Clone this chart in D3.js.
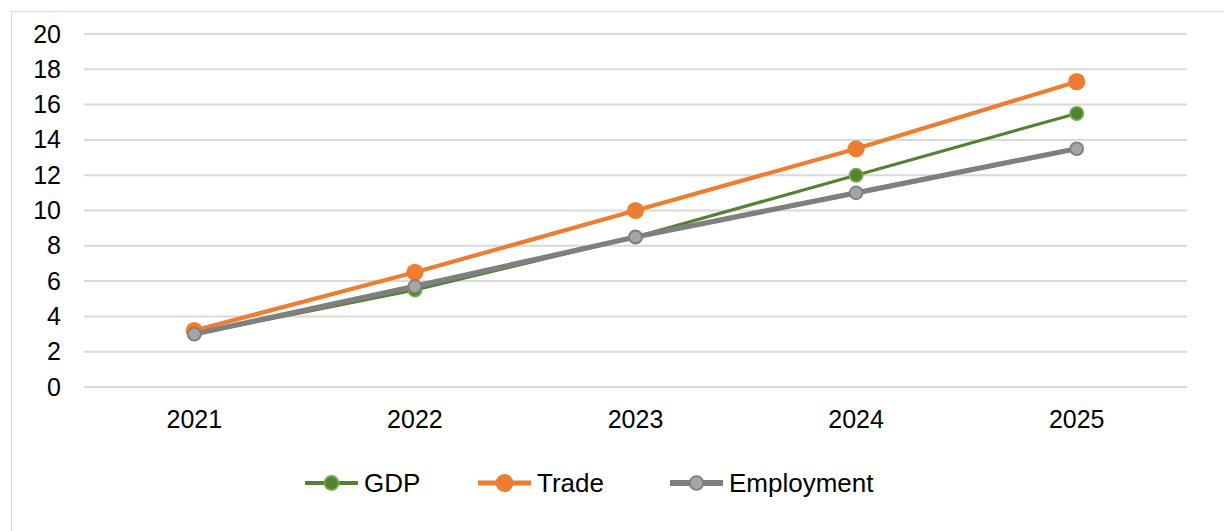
<!DOCTYPE html>
<html><head><meta charset="utf-8">
<script src="https://cdn.jsdelivr.net/npm/d3@7"></script>
<style>body{margin:0;background:#fff}svg{display:block}text{font-family:Arial,"Liberation Sans",sans-serif}</style>
</head><body><svg id="c" width="1224" height="531"></svg>
<script>
const years = ["2021","2022","2023","2024","2025"];
const gdp = [3.0, 5.5, 8.5, 12.0, 15.5];
const trade = [3.2, 6.5, 10.0, 13.5, 17.3];
const employment = [3.0, 5.7, 8.5, 11.0, 13.5];
const yTicks = [0,2,4,6,8,10,12,14,16,18,20];
const seriesNames = ["GDP","Trade","Employment"];

const series = [
  {name: seriesNames[0], values: gdp, line: "#548235", fill: "#548235", stroke: "#70AD47", w: 3.2, r: 6.6, sw: 1.8},
  {name: seriesNames[1], values: trade, line: "#ED7D31", fill: "#ED7D31", stroke: "#ED7D31", w: 4.2, r: 8.6, sw: 0},
  {name: seriesNames[2], values: employment, line: "#7F7F7F", fill: "#A5A5A5", stroke: "#7F7F7F", w: 5.2, r: 6.4, sw: 1.8}
];
const FS = 25;
const LFS = 26;

const svg = d3.select("#c");
svg.append("rect").attr("x",11.5).attr("y",11.5).attr("width",1240).attr("height",540)
  .attr("fill","none").attr("stroke","#D9D9D9").attr("stroke-width",1);

const x = d3.scaleBand().domain(years).range([84,1187]);
const y = d3.scaleLinear().domain([0,20]).range([387,34]);

const grid = svg.append("g");
yTicks.forEach(t=>{
  grid.append("line").attr("x1",84).attr("x2",1187).attr("y1",y(t)).attr("y2",y(t))
    .attr("stroke","#D9D9D9").attr("stroke-width",2);
});
const yAxis = d3.axisLeft(y).tickValues(yTicks).tickSize(0).tickPadding(0);
const ya = svg.append("g").attr("transform","translate(61,0)").call(yAxis);
ya.select(".domain").remove();
ya.selectAll("text").attr("font-size",FS).attr("fill","#000").attr("font-family","Arial,'Liberation Sans',sans-serif");

const xAxis = d3.axisBottom(x).tickSize(0).tickPadding(0);
const xa = svg.append("g").attr("transform","translate(0,428)").call(xAxis);
xa.select(".domain").remove();
xa.selectAll("text").attr("font-size",FS).attr("fill","#000").attr("dy","0").attr("y",0).attr("font-family","Arial,'Liberation Sans',sans-serif");

const cx = d => x(d) + x.bandwidth()/2;
const line = d3.line().x((d,i)=>cx(years[i])).y(d=>y(d));
series.forEach(s=>{
  const g = svg.append("g");
  g.append("path").attr("d",line(s.values)).attr("fill","none").attr("stroke",s.line)
    .attr("stroke-width",s.w).attr("stroke-linejoin","round");
  g.selectAll("circle").data(s.values).join("circle")
    .attr("cx",(d,i)=>cx(years[i])).attr("cy",d=>y(d)).attr("r",s.r)
    .attr("fill",s.fill).attr("stroke",s.stroke).attr("stroke-width",s.sw);
});

// legend
const legX = [305, 478, 670];
const ly = 483;
series.forEach((s,i)=>{
  const g = svg.append("g").attr("transform",`translate(${legX[i]},${ly})`);
  g.append("line").attr("x1",0).attr("x2",53).attr("y1",0).attr("y2",0).attr("stroke",s.line).attr("stroke-width",s.w+0.6);
  g.append("circle").attr("cx",26.5).attr("cy",0).attr("r",s.r+0.4).attr("fill",s.fill).attr("stroke",s.stroke).attr("stroke-width",s.sw);
  g.append("text").attr("x",59).attr("y",0).attr("dy","0.35em").attr("font-size",LFS).attr("fill","#000").text(s.name);
});
</script></body></html>
